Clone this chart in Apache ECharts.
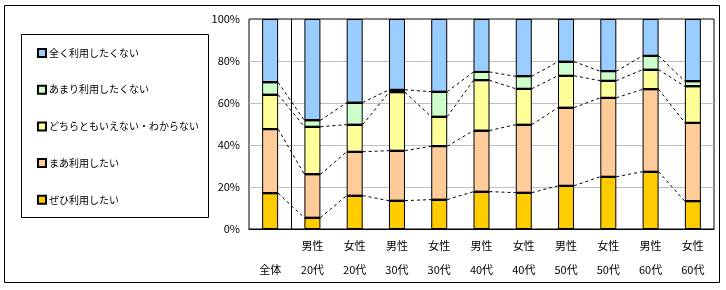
<!DOCTYPE html>
<html>
<head>
<meta charset="utf-8">
<script src="https://cdn.jsdelivr.net/npm/echarts@6/dist/echarts.min.js"></script>
<style>
	html, body { margin: 0; padding: 0; background: #fff; }
	#chart { width: 726px; height: 290px; }
</style>
</head>
<body>
<div id="chart"></div>
<script>
//カテゴリ
var categories = ['\n全体', '男性\n20代', '女性\n20代', '男性\n30代', '女性\n30代', '男性\n40代',
	'女性\n40代', '男性\n50代', '女性\n50代', '男性\n60代', '女性\n60代'];
//回答別の割合（%）
var zehi = [17.0, 5.4, 15.9, 13.5, 14.0, 17.8, 17.3, 20.6, 24.9, 27.3, 13.2]; //ぜひ利用したい
var maa = [30.5, 20.6, 20.9, 23.8, 25.4, 29.1, 32.4, 37.2, 37.6, 39.2, 37.4]; //まあ利用したい
var dochira = [16.5, 22.7, 12.9, 27.8, 14.1, 23.9, 17.1, 15.2, 8.1, 9.4, 17.3]; //どちらともいえない
var amari = [5.8, 3.0, 10.5, 1.2, 11.9, 4.0, 5.9, 6.7, 4.5, 6.6, 2.4]; //あまり利用したくない
var mattaku = [30.2, 48.3, 39.8, 33.7, 34.6, 25.2, 27.3, 20.3, 24.9, 17.5, 29.7]; //全く利用したくない
var seriesNames = ['ぜひ利用したい', 'まあ利用したい', 'どちらともいえない・わからない', 'あまり利用したくない', '全く利用したくない'];
var colors = ['#FFCC00', '#FFCC99', '#FFFF99', '#CCFFCC', '#99CCFF'];
var yTicks = [0, 20, 40, 60, 80, 100];

var stacks = [zehi, maa, dochira, amari, mattaku];
var barW = 16;
var font = '"Noto Sans CJK JP", sans-serif';

//累積値
function cumAt(i, level) {
	var s = 0;
	for (var k = 0; k <= level; k++) s += stacks[k][i];
	return s;
}

var chart = echarts.init(document.getElementById('chart'));

var series = [];
for (var k = 0; k < stacks.length; k++) {
	series.push({
		name: seriesNames[k],
		type: 'bar',
		stack: 'total',
		barWidth: barW,
		data: stacks[k],
		itemStyle: { color: colors[k], borderColor: '#000', borderWidth: 1 },
		emphasis: { disabled: true }
	});
}

//区分線・系列線
series.push({
	type: 'custom',
	z: 5,
	silent: true,
	data: categories.map(function(c, i) { return [i]; }),
	renderItem: function(params, api) {
		var i = api.value(0);
		var band = api.size([1, 0])[0];
		var children = [];
		var x0 = api.coord([i, 0])[0];
		for (var lv = 0; lv < 4; lv++) {
			var p = api.coord([i, cumAt(i, lv)]);
			children.push({
				type: 'line',
				shape: { x1: x0 - barW / 2, y1: Math.round(p[1]), x2: x0 + barW / 2, y2: Math.round(p[1]) },
				style: { stroke: '#000', lineWidth: 2 }
			});
			if (i < categories.length - 1) {
				var q = api.coord([i + 1, cumAt(i + 1, lv)]);
				children.push({
					type: 'line',
					shape: { x1: x0 + barW / 2, y1: p[1], x2: q[0] - barW / 2, y2: q[1] },
					style: { stroke: '#000', lineWidth: 1, lineDash: [3, 3] }
				});
			}
		}
		if (i === 0) {
			var top = api.coord([0, yTicks[yTicks.length - 1]]);
			var bot = api.coord([0, yTicks[0]]);
			children.push({
				type: 'line',
				shape: { x1: Math.round(x0 + band / 2) + 0.5, y1: top[1], x2: Math.round(x0 + band / 2) + 0.5, y2: bot[1] },
				style: { stroke: '#000', lineWidth: 1 }
			});
		}
		return { type: 'group', children: children };
	}
});

var option = {
	animation: false,
	graphic: [{
		type: 'rect',
		shape: { x: 4.5, y: 5.5, width: 715, height: 277 },
		style: { fill: 'none', stroke: '#000', lineWidth: 1 },
		silent: true
	}, {
		//凡例の枠
		type: 'rect',
		shape: { x: 21.5, y: 34.5, width: 187, height: 183 },
		style: { fill: 'none', stroke: '#000', lineWidth: 1 },
		silent: true
	}],
	legend: {
		orient: 'vertical',
		left: 21,
		top: 34,
		padding: [13, 4, 11, 16],
		itemGap: 24.7,
		itemWidth: 8,
		itemHeight: 8,
		icon: 'rect',
		data: seriesNames.slice().reverse(),
		textStyle: { fontFamily: font, fontSize: 10, color: '#000', lineHeight: 12, padding: [0, 0, 0, -2] }
	},
	grid: {
		left: 249,
		right: 12,
		top: 19,
		bottom: 61,
		show: true,
		borderColor: '#000',
		borderWidth: 1
	},
	xAxis: {
		type: 'category',
		data: categories,
		axisLine: { lineStyle: { color: '#000' } },
		axisTick: { length: 53, interval: 0, lineStyle: { color: '#000' } },
		axisLabel: {
			interval: 0,
			margin: 5,
			fontFamily: font,
			fontSize: 11,
			color: '#000',
			lineHeight: 24
		}
	},
	yAxis: {
		type: 'value',
		min: yTicks[0],
		max: yTicks[yTicks.length - 1],
		interval: 20,
		axisLine: { show: false },
		axisTick: { show: false },
		axisLabel: { formatter: '{value}%', margin: 9, fontFamily: font, fontSize: 11, color: '#000' },
		splitLine: { showMinLine: false, showMaxLine: false, lineStyle: { color: '#c0c0c0' } }
	},
	series: series
};
chart.setOption(option);
</script>
</body>
</html>
